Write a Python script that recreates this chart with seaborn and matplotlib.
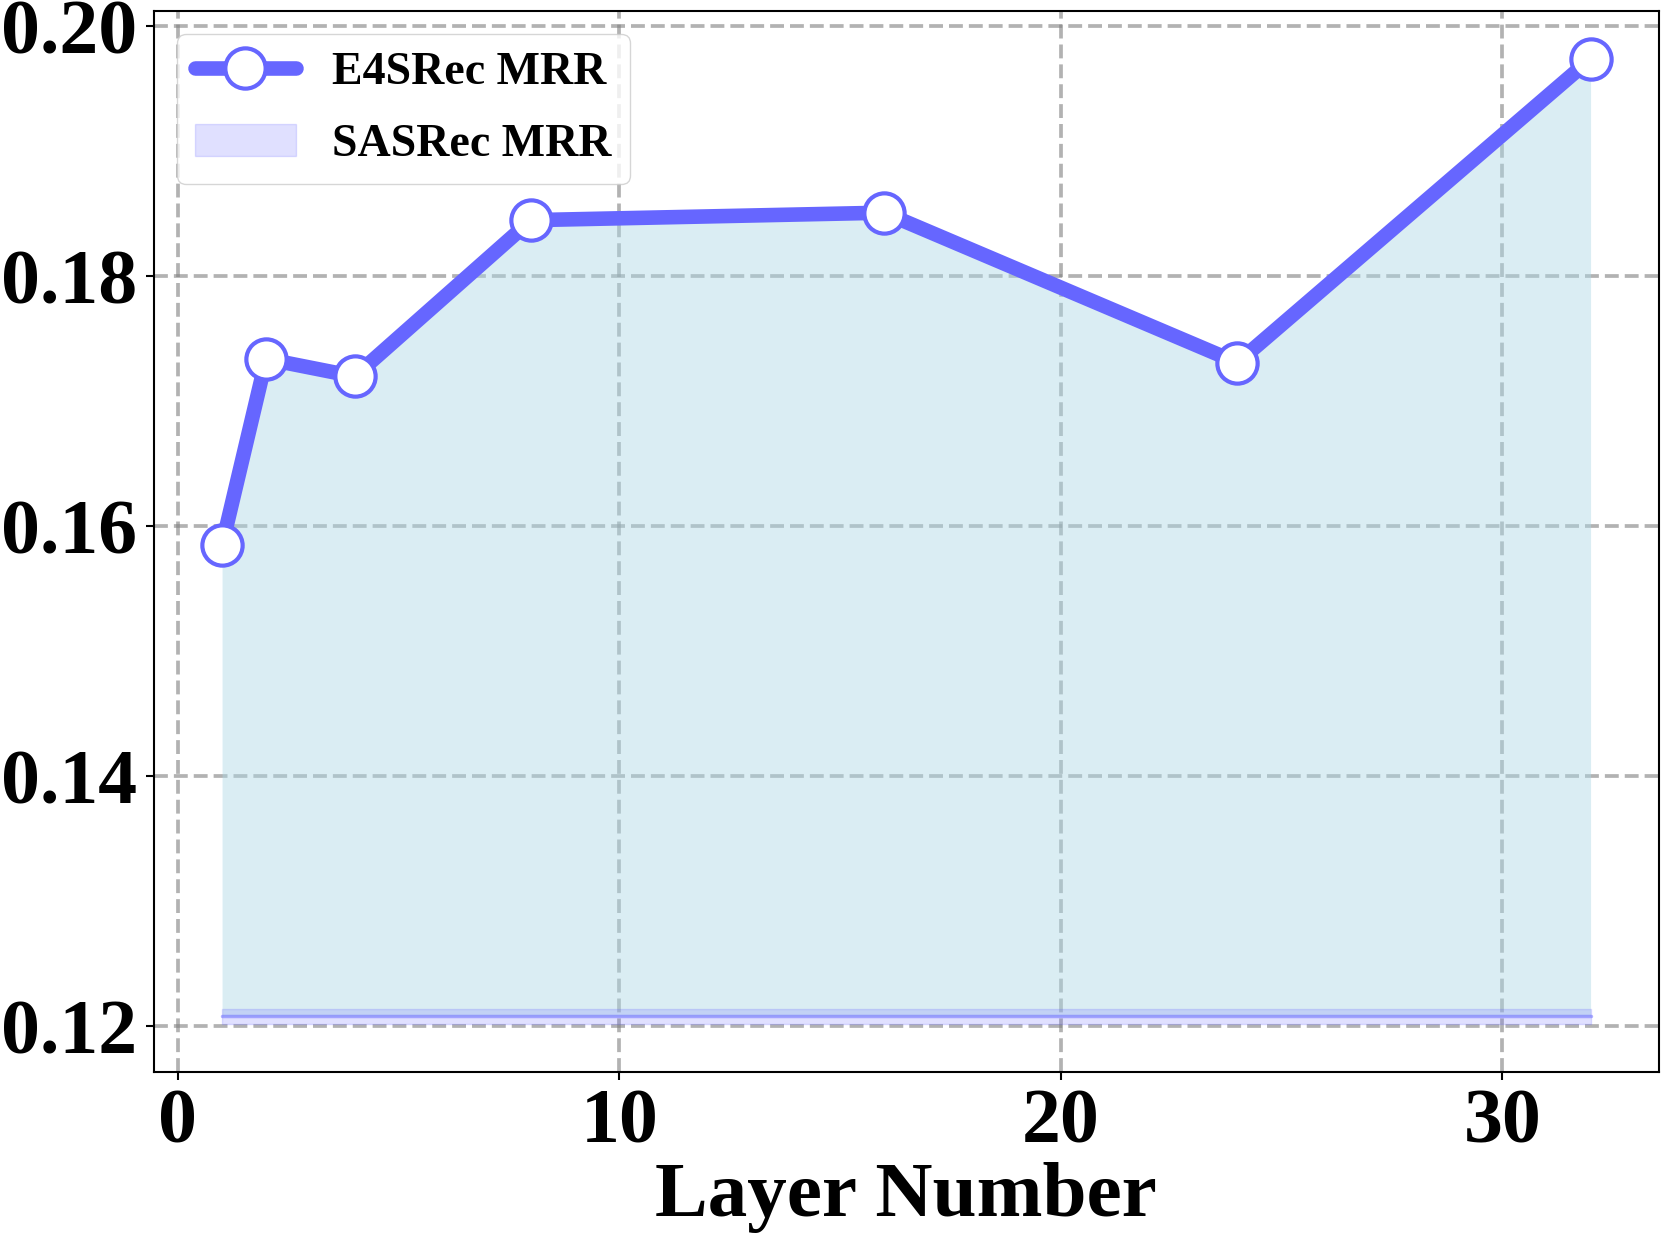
import numpy as np
import pandas as pd
import matplotlib
matplotlib.use("Agg")
import matplotlib.pyplot as plt
import seaborn as sns
from matplotlib.lines import Line2D
from matplotlib.patches import Patch

# 数据
layers = [1, 2, 4, 8, 16, 24, 32]
e4srec_mrr = [0.1585, 0.1734, 0.1720, 0.1845, 0.1851, 0.1731, 0.1974]
sasrec_mrr = 0.1208
band = 0.0006

LINE_COLOR = "#6666ff"

sns.set_style("white")
plt.rcParams["font.family"] = ["Liberation Serif", "DejaVu Serif"]
plt.rcParams["font.weight"] = "bold"
plt.rcParams["text.color"] = "black"
plt.rcParams["axes.labelcolor"] = "black"
plt.rcParams["xtick.color"] = "black"
plt.rcParams["ytick.color"] = "black"

df = pd.DataFrame({"Layer": layers, "MRR": e4srec_mrr})
sas = np.full(len(layers), sasrec_mrr)

fig, ax = plt.subplots(figsize=(16.61, 12.33), dpi=100)
fig.subplots_adjust(left=0.0925, right=0.9988, top=0.9913, bottom=0.1306)

# 填充区域
ax.fill_between(layers, sas, e4srec_mrr, color="lightblue", alpha=0.45, linewidth=0)
ax.fill_between(layers, sas - band, sas + band, color=LINE_COLOR, alpha=0.2)
ax.plot(layers, sas, color=LINE_COLOR, alpha=0.5, linewidth=2.5)

sns.lineplot(data=df, x="Layer", y="MRR", ax=ax, color=LINE_COLOR, linewidth=10.5,
             marker="o", markersize=29, markerfacecolor="white",
             markeredgecolor=LINE_COLOR, markeredgewidth=3, zorder=5)

ax.set_xticks([0, 10, 20, 30])
ax.set_yticks([0.12, 0.14, 0.16, 0.18, 0.20])
ax.set_yticklabels([f"{v:.2f}" for v in [0.12, 0.14, 0.16, 0.18, 0.20]])
ax.tick_params(axis="both", labelsize=56, length=6, width=1.5, direction="out",
               left=True, bottom=True, pad=6, colors="black")
for lab in ax.get_xticklabels() + ax.get_yticklabels():
    lab.set_fontweight("bold")

ax.set_xlabel("Layer Number", fontsize=57, fontweight="bold", labelpad=2, color="black")
ax.set_ylabel("")
ax.grid(True, linestyle="--", color="gray", alpha=0.6, linewidth=2.7)
for s in ax.spines.values():
    s.set_color("black")
    s.set_linewidth(1.5)

handles = [
    Line2D([0], [0], color=LINE_COLOR, linewidth=10.5, marker="o", markersize=29,
           markerfacecolor="white", markeredgecolor=LINE_COLOR, markeredgewidth=3),
    Patch(facecolor=LINE_COLOR, edgecolor=LINE_COLOR, alpha=0.2),
]
leg = ax.legend(handles, ["E4SRec MRR", "SASRec MRR"], loc="upper left",
                prop={"size": 33, "weight": "bold"}, handlelength=2.2,
                handletextpad=0.8, labelspacing=0.65, frameon=True, fancybox=True)
leg.get_frame().set_edgecolor("#cccccc")
for t in leg.get_texts():
    t.set_color("black")

plt.savefig("out.png", dpi=100)
plt.close()
